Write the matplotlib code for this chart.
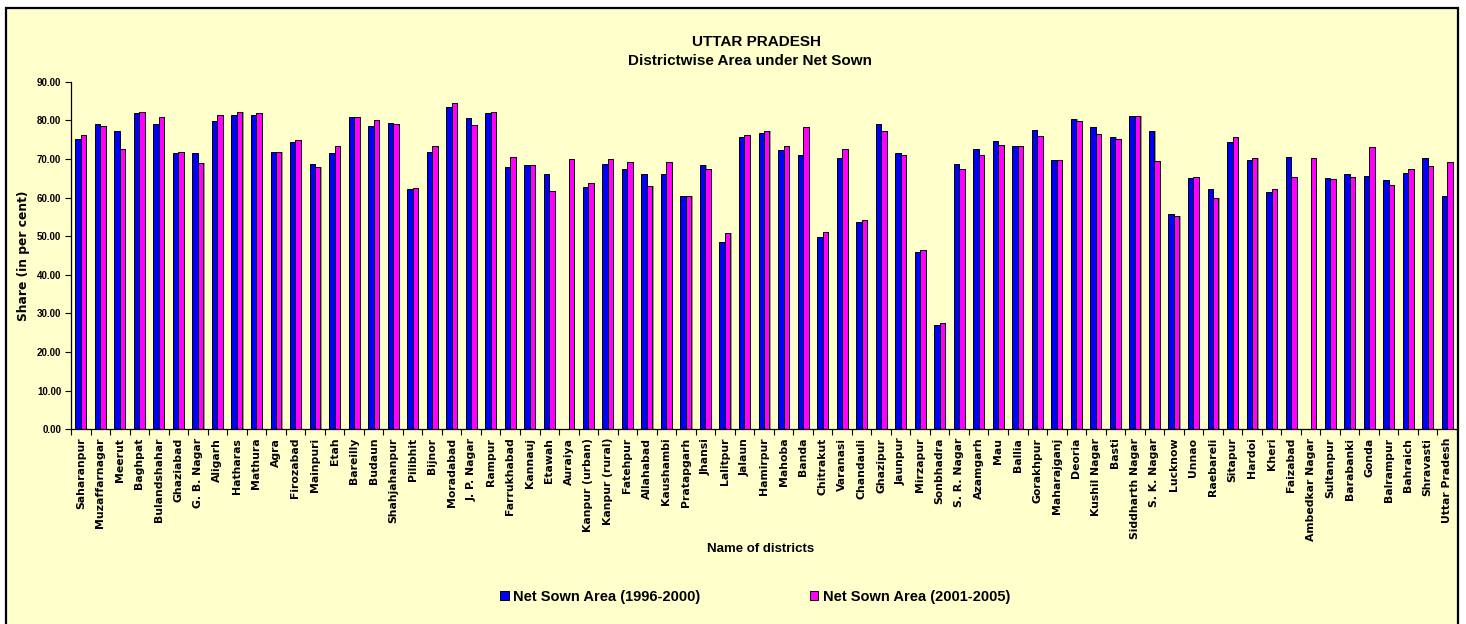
import numpy as np
import matplotlib as mpl; mpl.use("Agg")
import matplotlib.pyplot as plt
from matplotlib.patches import Rectangle

districts = [
    "Saharanpur", "Muzaffarnagar", "Meerut", "Baghpat", "Bulandshahar", "Ghaziabad",
    "G. B. Nagar", "Aligarh", "Hatharas", "Mathura", "Agra", "Firozabad", "Mainpuri",
    "Etah", "Bareilly", "Budaun", "Shahjahanpur", "Pilibhit", "Bijnor", "Moradabad",
    "J. P. Nagar", "Rampur", "Farrukhabad", "Kannauj", "Etawah", "Auraiya",
    "Kanpur (urban)", "Kanpur (rural)", "Fatehpur", "Allahabad", "Kaushambi",
    "Pratapgarh", "Jhansi", "Lalitpur", "Jalaun", "Hamirpur", "Mahoba", "Banda",
    "Chitrakut", "Varanasi", "Chandauli", "Ghazipur", "Jaunpur", "Mirzapur",
    "Sonbhadra", "S. R. Nagar", "Azamgarh", "Mau", "Ballia", "Gorakhpur",
    "Maharajganj", "Deoria", "Kushil Nagar", "Basti", "Siddharth Nagar",
    "S. K. Nagar", "Lucknow", "Unnao", "Raebareli", "Sitapur", "Hardoi", "Kheri",
    "Faizabad", "Ambedkar Nagar", "Sultanpur", "Barabanki", "Gonda", "Balrampur",
    "Bahraich", "Shravasti", "Uttar Pradesh",
]
nsa_1996_2000 = [
    75.2, 79.1, 77.3, 81.8, 79.1, 71.5, 71.5, 79.7, 81.5, 81.5, 71.8, 74.5, 68.8,
    71.5, 80.9, 78.5, 79.4, 62.1, 71.8, 83.4, 80.6, 81.8, 67.9, 68.4, 66.0, 0.0,
    62.7, 68.7, 67.3, 66.2, 66.0, 60.5, 68.4, 48.6, 75.8, 76.7, 72.4, 71.1, 49.9,
    70.3, 53.8, 79.1, 71.5, 45.9, 27.1, 68.7, 72.7, 74.6, 73.3, 77.6, 69.7, 80.4,
    78.2, 75.8, 81.0, 77.2, 55.7, 65.1, 62.2, 74.3, 69.7, 61.4, 70.6, 0.0, 65.1,
    66.0, 65.7, 64.5, 66.3, 70.3, 60.5,
]
nsa_2001_2005 = [
    76.3, 78.5, 72.7, 82.1, 80.9, 71.8, 69.0, 81.5, 82.1, 81.8, 71.8, 74.8, 67.9,
    73.3, 80.9, 80.0, 79.1, 62.6, 73.3, 84.6, 78.8, 82.1, 70.5, 68.4, 61.7, 69.9,
    63.9, 69.9, 69.3, 62.9, 69.1, 60.5, 67.4, 50.8, 76.3, 77.2, 73.3, 78.4, 51.1,
    72.7, 54.1, 77.2, 71.1, 46.3, 27.4, 67.3, 70.9, 73.6, 73.3, 76.0, 69.7, 79.7,
    76.4, 75.2, 81.0, 69.4, 55.1, 65.3, 59.9, 75.8, 70.3, 62.3, 65.3, 70.3, 64.8,
    65.3, 73.0, 63.3, 67.3, 68.1, 69.1,
]
series_labels = ["Net Sown Area (1996-2000)", "Net Sown Area (2001-2005)"]

BG = "#FFFFCC"
BLUE = "#0000FF"
PINK = "#FF00FF"
ARIAL = ["Liberation Sans", "DejaVu Sans"]

W, H = 1466, 624
fig = plt.figure(figsize=(W / 100, H / 100), dpi=100)
fig.patch.set_facecolor("white")
# chart frame, behind everything
fig.patches.append(Rectangle((6 / W, -0.01), 1452 / W, 1 - 8 / H + 0.01,
                             transform=fig.transFigure, facecolor=BG,
                             edgecolor="black", linewidth=1.6, zorder=-5))

ax = fig.add_axes([71 / W, 1 - 429.3 / H, (1457 - 71) / W, (429.3 - 81.7) / H])
ax.set_facecolor("none")
ax.set_zorder(2)

x = np.arange(len(districts))
bw = 0.28
shadow = dict(color="#9a9a80", linewidth=0, zorder=1)
ax.bar(x - bw / 2 + 0.06, nsa_1996_2000, bw, **shadow)
ax.bar(x + bw / 2 + 0.06, nsa_2001_2005, bw, **shadow)
ax.bar(x - bw / 2, nsa_1996_2000, bw, color=BLUE, edgecolor="black", linewidth=0.7,
       label=series_labels[0], zorder=2)
ax.bar(x + bw / 2, nsa_2001_2005, bw, color=PINK, edgecolor="black", linewidth=0.7,
       label=series_labels[1], zorder=2)

ax.set_xlim(-0.5, len(districts) - 0.5)
ax.set_ylim(0, 90)
ax.set_yticks(np.arange(0, 91, 10))
ax.set_yticklabels([f"{v:.2f}" for v in np.arange(0, 91, 10)],
                   fontsize=7, fontweight="bold", family=ARIAL)
ax.set_xticks(x)
ax.set_xticklabels(districts, rotation=90, fontsize=7.8, fontweight="bold",
                   family=["DejaVu Sans"])
ax.set_xticks(np.arange(-0.5, len(districts), 1), minor=True)
ax.tick_params(axis="x", which="major", length=0, pad=6)
ax.tick_params(axis="x", which="minor", length=4, width=0.8, direction="out")
ax.tick_params(axis="y", length=4, width=0.8, direction="out", pad=3)
for s in ("top", "right"):
    ax.spines[s].set_visible(False)
for s in ("left", "bottom"):
    ax.spines[s].set_linewidth(0.9)

ax.set_ylabel("Share (in per cent)", fontsize=8.8, fontweight="bold",
              family=["DejaVu Sans"], labelpad=5)
fig.text(761 / W, 1 - 549 / H, "Name of districts", ha="center", va="center",
         fontsize=9.5, fontweight="bold", family=ARIAL)

fig.text(757 / W, 1 - 42 / H, "UTTAR PRADESH", ha="center", va="center",
         fontsize=11, fontweight="bold", family=ARIAL)
fig.text(750 / W, 1 - 61 / H, "Districtwise Area under Net Sown", ha="center",
         va="center", fontsize=11, fontweight="bold", family=ARIAL)

leg = fig.legend(loc="center", bbox_to_anchor=(755 / W, 1 - 597 / H), ncol=2,
                 frameon=False, handlelength=0.6, handleheight=0.6,
                 handletextpad=0.3, columnspacing=7.5,
                 prop={"family": ARIAL, "weight": "bold", "size": 10.5})

fig.savefig("out.png", dpi=100, facecolor=fig.get_facecolor())
